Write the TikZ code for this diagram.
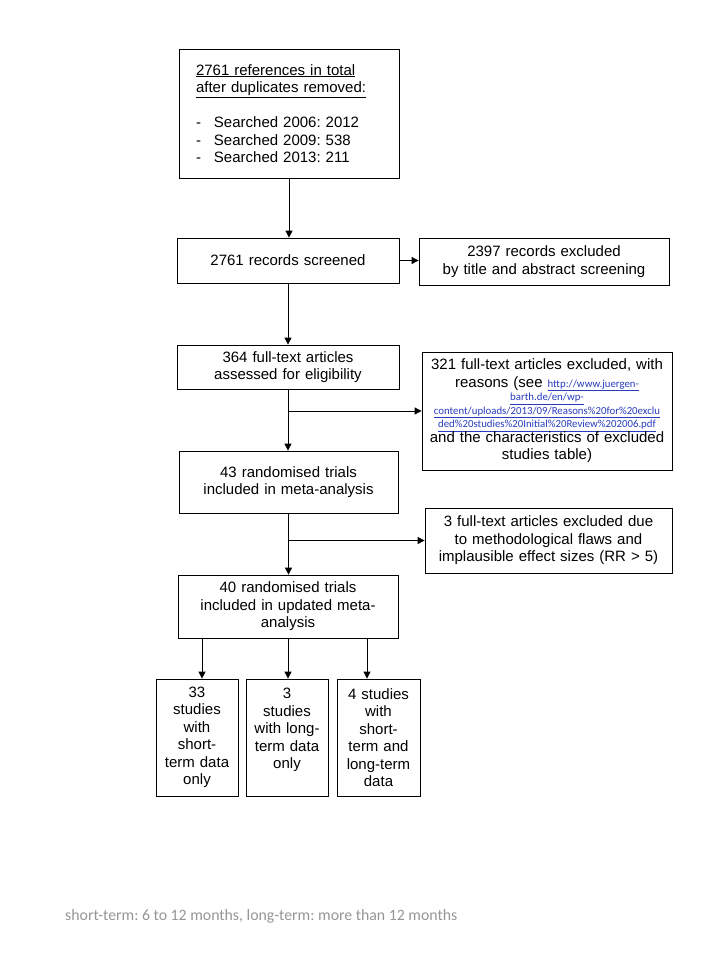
\documentclass[tikz,border=0pt]{standalone}
\usepackage{fontspec}
\setmainfont{Liberation Sans}
\newfontfamily\notefont{Carlito}
\usetikzlibrary{arrows.meta}
\definecolor{linkblue}{RGB}{40,60,190}
\definecolor{notegray}{RGB}{150,150,150}
\newcommand{\weblink}[1]{{\notefont\fontsize{10.8}{12}\selectfont\color{linkblue}\underline{#1}}}
\newcommand{\listdash}{\makebox[18pt][l]{-}}
\frenchspacing

\begin{document}
\begin{tikzpicture}[x=1pt, y=-1pt,
    box/.style={draw, line width=0.8pt, align=center, inner sep=0pt, font=\fontsize{15}{17.5}\selectfont},
    arr/.style={-{Triangle[length=7pt,width=7pt]}, line width=0.8pt}]

    \useasboundingbox[fill=white] (0,0) rectangle (720,960);

    \node[box, minimum width=220, minimum height=129, text width=186, align=left] (refs) at (289,113.5)
        {\underline{2761 references in total}\\ \underline{after duplicates removed:}\\[17.5pt]
         \listdash Searched 2006: 2012\\ \listdash Searched 2009: 538\\ \listdash Searched 2013: 211};

    \node[box, minimum width=222, minimum height=45, text width=218] (scr) at (288,260.5) {2761 records screened};
    \node[box, minimum width=250, minimum height=47, text width=246] (ex1) at (544,261.5)
        {2397 records excluded\\by title and abstract screening};

    \node[box, minimum width=222, minimum height=44, text width=218] (ft) at (288,367)
        {364 full-text articles\\assessed for eligibility};
    \node[box, minimum width=250, minimum height=118, text width=248] (ex2) at (547,411)
        {321 full-text articles excluded, with\\reasons (see \weblink{http://www.juergen-}\\[-4pt]
         \weblink{barth.de/en/wp-}\\[-4pt]
         \weblink{content/uploads/2013/09/Reasons\%20for\%20exclu}\\[-4pt]
         \weblink{ded\%20studies\%20Initial\%20Review\%202006.pdf}\\[-3pt]
         and the characteristics of excluded\\studies table)};

    \node[box, minimum width=219, minimum height=62, text width=215] (t43) at (288.5,482)
        {43 randomised trials\\included in meta-analysis};
    \node[box, minimum width=247, minimum height=65, text width=243] (ex3) at (548.5,540.5)
        {3 full-text articles excluded due\\to methodological flaws and\\implausible effect sizes (RR > 5)};

    \node[box, minimum width=220, minimum height=63, text width=216] (t40) at (288,606.5)
        {40 randomised trials\\included in updated meta-\\analysis};

    \node[box, minimum width=82, minimum height=117, text width=80] (b1) at (197,737.5)
        {33\\studies\\with\\short-\\term data\\only};
    \node[box, minimum width=82, minimum height=117, text width=80] (b2) at (287,737.5)
        {3\\studies\\with long-\\term data\\only\\\mbox{}};
    \node[box, minimum width=83, minimum height=117, text width=81] (b3) at (378.5,737.5)
        {4 studies\\with\\short-\\term and\\long-term\\data};

    \node[anchor=west, inner sep=0pt, text=notegray, font=\notefont\fontsize{15.8}{18}\selectfont] (note) at (65,916)
        {short-term: 6 to 12 months, long-term: more than 12 months};

    \draw[arr] (refs.south) -- (refs.south |- scr.north);
    \draw[arr] (scr.east) -- (scr.east -| ex1.west);
    \draw[arr] (scr.south) -- (scr.south |- ft.north);
    \draw[arr] (ft.south) -- (ft.south |- t43.north);
    \draw[arr] (ft.south |- ex2.west) -- (ex2.west);
    \draw[arr] (t43.south) -- (t43.south |- t40.north);
    \draw[arr] (t43.south |- ex3.west) -- (ex3.west);

    \draw[arr] ([xshift=5pt]b1.north |- t40.south) -- ([xshift=5pt]b1.north);
    \draw[arr] ([xshift=1pt]b2.north |- t40.south) -- ([xshift=1pt]b2.north);
    \draw[arr] ([xshift=-11.5pt]b3.north |- t40.south) -- ([xshift=-11.5pt]b3.north);
\end{tikzpicture}
\end{document}
